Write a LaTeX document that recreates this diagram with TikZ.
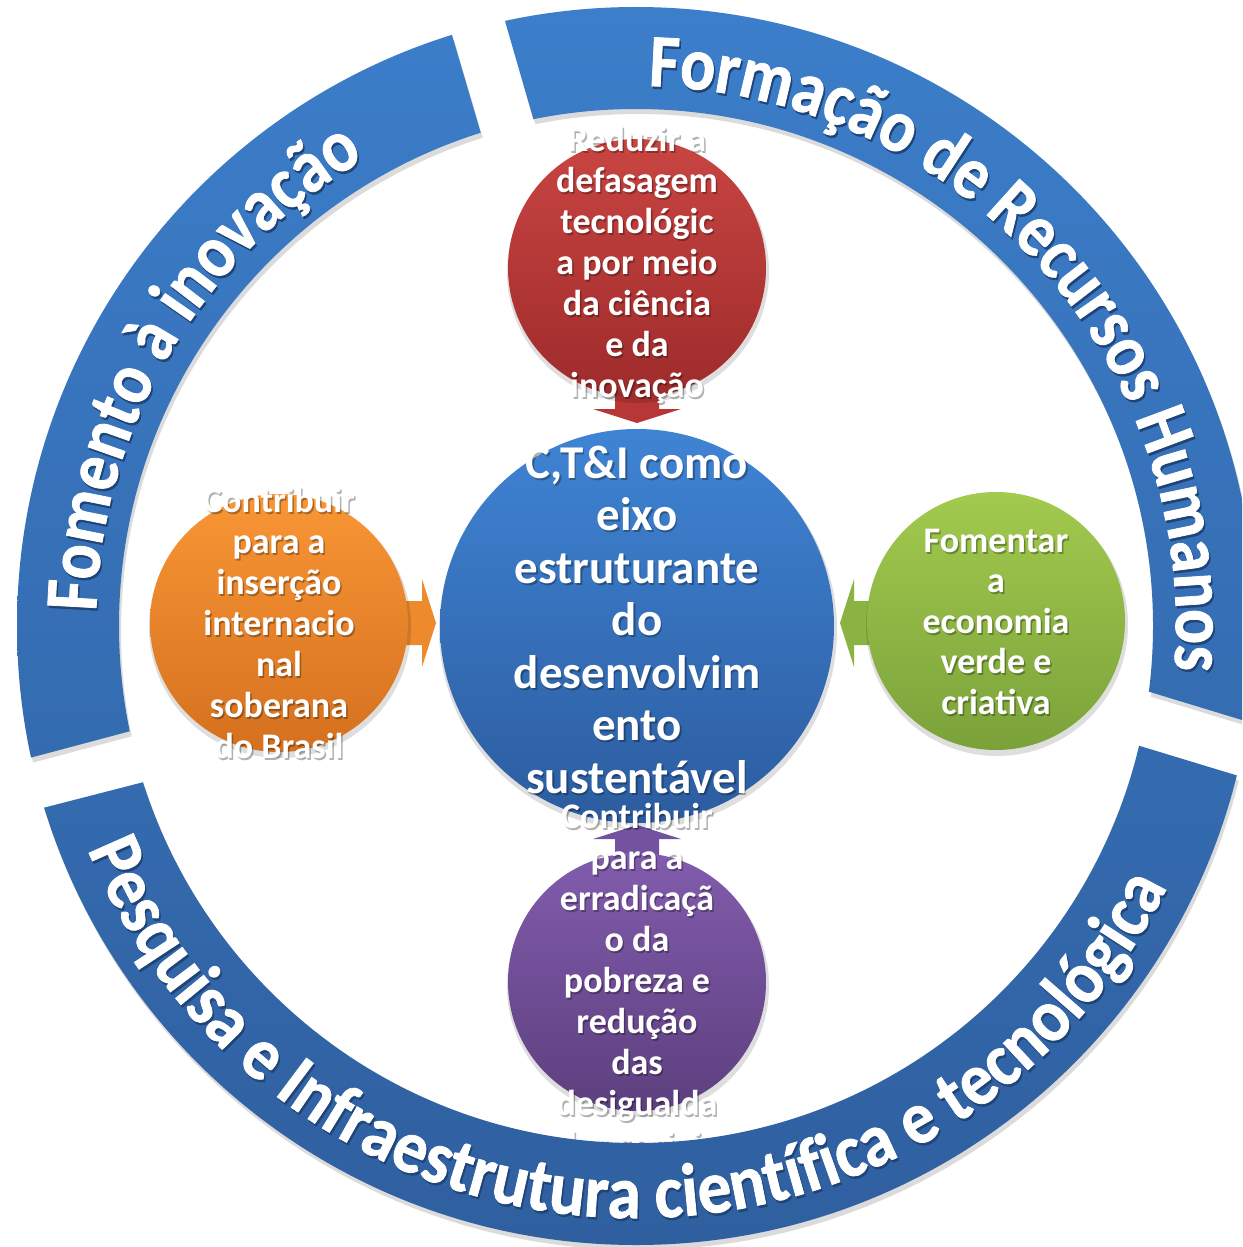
\documentclass[tikz,border=0pt]{standalone}
\usepackage{fontspec}
\setmainfont{Carlito}
\newfontfamily\ringfam{Carlito}[FakeStretch=0.87, FakeBold=1]
\newfontfamily\ringfamB{Carlito}[FakeStretch=0.90, FakeBold=1]
\usetikzlibrary{decorations.text,calc}
\definecolor{redT}{HTML}{C94542}
\definecolor{redB}{HTML}{9E2B2B}
\definecolor{blueT}{HTML}{3F84D4}
\definecolor{blueB}{HTML}{2C5C9F}
\definecolor{orgT}{HTML}{F99635}
\definecolor{orgB}{HTML}{D5701F}
\definecolor{grnT}{HTML}{A2CA4E}
\definecolor{grnB}{HTML}{7BA23A}
\definecolor{purT}{HTML}{825CAD}
\definecolor{purB}{HTML}{5D3F7E}
\definecolor{ringT}{HTML}{3C7ECA}
\definecolor{ringB}{HTML}{2F5F9F}
\definecolor{ringSh}{HTML}{1E4478}
\definecolor{arrRed}{HTML}{B93636}
\definecolor{arrOrg}{HTML}{EC8A2D}
\definecolor{arrGrn}{HTML}{8AB342}
\definecolor{arrPur}{HTML}{7352A0}
\newcommand\ringfnt{\ringfam\bfseries\fontsize{75}{82}\selectfont}
\newcommand\ringfntB{\ringfamB\bfseries\fontsize{75}{82}\selectfont}
\newcommand\smfnt{\bfseries\fontsize{36}{41}\selectfont}
\newcommand\bigfnt{\bfseries\fontsize{47}{52}\selectfont}
\newcommand\clipA{\clip (542,-341) -- (362,271) -- (-600,271) -- (-600,-900) -- (-293,-844) -- (337,-676) -- cycle;}
\newcommand\clipB{\clip (589,-312) -- (421,270) -- (1900,270) -- (1900,-776) -- (1426,-776) -- (874,-608) -- cycle;}
\newcommand\clipC{\clip (936,-684) -- (1548,-870) -- (1548,-1900) -- (-600,-1900) -- (-280,-891) -- (350,-729) -- cycle;}
\newcommand\txtlines[6]{%
  \foreach \t [count=\i] in {#5} {
    \node[anchor=base, inner sep=0pt, font=#4, text=black, opacity=0.3] at ({#1+1.5},{-(#2+#3*(\i-1))-2}) {\t};
    \node[anchor=base, inner sep=0pt, font=#4, text=white] (#6\i) at ({#1},{-(#2+#3*(\i-1))}) {\t};
  }}
\tikzset{
  bubble/.style={circle, draw=none, inner sep=0pt, outer sep=0pt},
  blockarr/.pic={\fill[pic actions] (-15,-22) -- (1,-22) -- (1,-44) -- (15,0) -- (1,44) -- (1,22) -- (-15,22) -- cycle;},
  ringtext/.style={decorate, decoration={text along path, text align=center, text color=#1}},
}
\begin{document}
\begin{tikzpicture}[x=1pt,y=1pt]
\useasboundingbox (0,0) rectangle (1242,-1247);
\fill[white] (0,0) rectangle (1242,-1247);
\clip (0,0) rectangle (1242,-1247);
\coordinate (C) at (636,-626);

% block arrows
\pic[fill=arrRed, rotate=-90] (aR) at (637,-408) {blockarr};
\pic[fill=arrOrg] (aO) at (421,-623) {blockarr};
\pic[fill=arrGrn, rotate=180] (aG) at (855,-623) {blockarr};
\pic[fill=arrPur, rotate=90] (aP) at (637,-840) {blockarr};

% circle shadows
\foreach \x/\y/\r in {637/268/129, 637/626/197, 279/623/129, 996/621/129, 637/982/129}
  \fill[black, opacity=0.13] ({\x+1},{-\y-4}) circle[radius=\r+2];

% circles
\node[bubble, minimum size=258pt, top color=redT, bottom color=redB] (red) at (637,-268) {};
\node[bubble, minimum size=394pt, top color=blueT, bottom color=blueB] (ctr) at (637,-626) {};
\node[bubble, minimum size=258pt, top color=orgT, bottom color=orgB] (org) at (279,-623) {};
\node[bubble, minimum size=258pt, top color=grnT, bottom color=grnB] (grn) at (996,-621) {};
\node[bubble, minimum size=258pt, top color=purT, bottom color=purB] (pur) at (637,-982) {};

% texts
\txtlines{637}{151}{41}{\smfnt}{Reduzir a, defasagem, tecnológic, a por meio, da ciência, e da, inovação}{redl}
\txtlines{279}{512}{41}{\smfnt}{Contribuir, para a, inserção, internacio, nal, soberana, do Brasil}{orgl}
\txtlines{996}{552}{40.5}{\smfnt}{Fomentar, a, economia, verde e, criativa}{grnl}
\txtlines{637}{828}{41}{\smfnt}{Contribuir, para a, erradicaçã, o da, pobreza e, redução, das, desigualda, des sociais}{purl}
\txtlines{637}{478}{52.5}{\bigfnt}{{C,T\&I como}, eixo, estruturante, do, desenvolvim, ento, sustentável}{ctrl}

% ring shadow
\begin{scope}[shift={(2,-5)}]
  \begin{scope}\clipA \fill[black, opacity=0.14, even odd rule] (636,-626) circle[radius=619] (636,-626) circle[radius=517]; \end{scope}
  \begin{scope}\clipB \fill[black, opacity=0.14, even odd rule] (636,-626) circle[radius=619] (636,-626) circle[radius=517]; \end{scope}
  \begin{scope}\clipC \fill[black, opacity=0.14, even odd rule] (636,-626) circle[radius=619] (636,-626) circle[radius=517]; \end{scope}
\end{scope}
% ring segments
\begin{scope}\clipA \shade[top color=ringT, bottom color=ringB, even odd rule] (636,-626) circle[radius=619] (636,-626) circle[radius=517]; \end{scope}
\begin{scope}\clipB \shade[top color=ringT, bottom color=ringB, even odd rule] (636,-626) circle[radius=619] (636,-626) circle[radius=517]; \end{scope}
\begin{scope}\clipC \shade[top color=ringT, bottom color=ringB, even odd rule] (636,-626) circle[radius=619] (636,-626) circle[radius=517]; \end{scope}

% ring texts
\begin{scope}[shift={(637.5,-628.5)}]
  \path[ringtext=ringSh, decoration={text={|\ringfnt|Formação de Recursos Humanos}}] (112:540) arc[start angle=112, end angle=-28, radius=540];
  \path[ringtext=ringSh, decoration={text={|\ringfnt|Fomento à inovação}}] (199.3:540) arc[start angle=199.3, end angle=99.3, radius=540];
  \path[ringtext=ringSh, decoration={text={|\ringfntB|Pesquisa e Infraestrutura científica e tecnológica}}] (188:592) arc[start angle=188, end angle=348, radius=592];
\end{scope}
\begin{scope}[shift={(636,-626)}]
  \path[ringtext=white, decoration={text={|\ringfnt|Formação de Recursos Humanos}}] (112:540) arc[start angle=112, end angle=-28, radius=540];
  \path[ringtext=white, decoration={text={|\ringfnt|Fomento à inovação}}] (199.3:540) arc[start angle=199.3, end angle=99.3, radius=540];
  \path[ringtext=white, decoration={text={|\ringfntB|Pesquisa e Infraestrutura científica e tecnológica}}] (188:592) arc[start angle=188, end angle=348, radius=592];
\end{scope}
\end{tikzpicture}
\end{document}
